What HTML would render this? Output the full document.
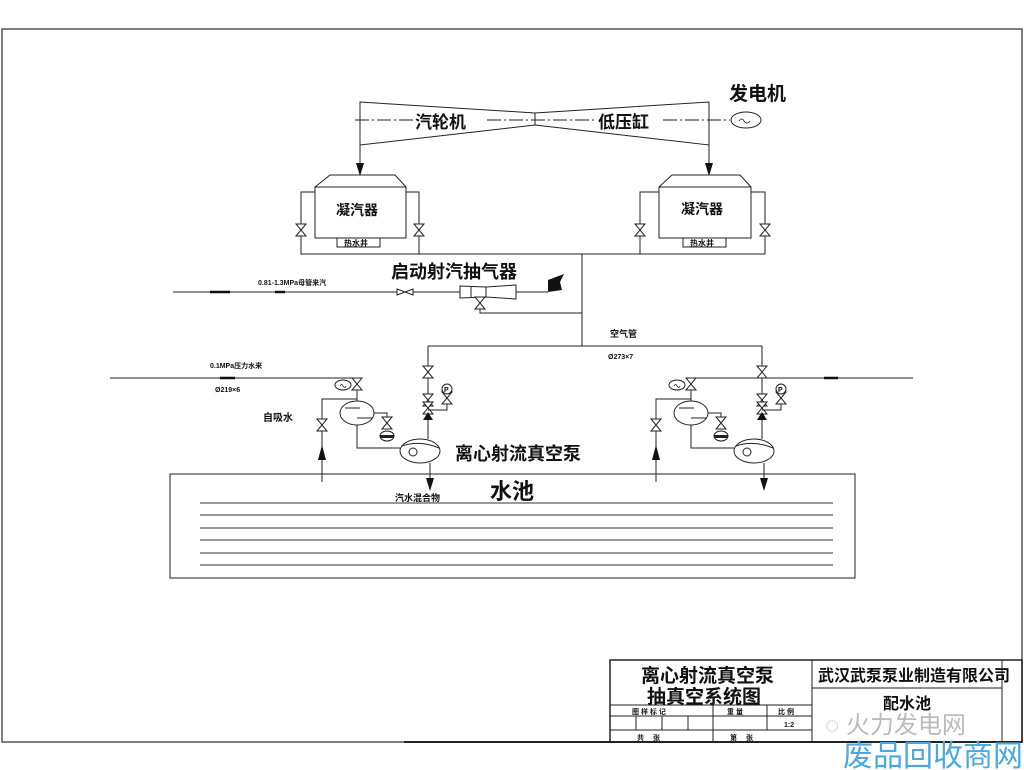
<!DOCTYPE html>
<html><head><meta charset="utf-8"><style>
html,body{margin:0;padding:0;background:#fff;}
svg{display:block}
text{font-family:"Liberation Sans","Noto Sans CJK SC","WenQuanYi Zen Hei",sans-serif;fill:#111}
</style></head><body>
<svg width="1024" height="770" viewBox="0 0 1024 770" xmlns="http://www.w3.org/2000/svg">
<defs>
<g id="vv"><path d="M-5,-6 L5,-6 L-5,6 L5,6 Z" fill="#fff" stroke="#222" stroke-width="1"/></g>
<g id="pumpset">
 <use href="#vv" x="357" y="384"/>
 <ellipse cx="343" cy="385" rx="8" ry="5" fill="#fff" stroke="#222"/>
 <path d="M340,386 q2,-3 3,0 q2,3 3,0" fill="none" stroke="#222" stroke-width="0.8"/>
 <line x1="357" y1="390" x2="357" y2="401" stroke="#222"/>
 <polyline points="357,399 322,399 322,482" fill="none" stroke="#222"/>
 <use href="#vv" x="322" y="425"/>
 <polygon points="322,445 318,460 326,460" fill="#111"/>
 <ellipse cx="357" cy="413" rx="17" ry="12" fill="#fff" stroke="#222"/>
 <line x1="345" y1="408" x2="360" y2="408" stroke="#222"/>
 <line x1="357" y1="418" x2="372" y2="418" stroke="#222"/>
 <polyline points="374,413 387,413 387,417" fill="none" stroke="#222"/>
 <use href="#vv" x="387" y="423"/>
 <ellipse cx="387" cy="436" rx="7" ry="5" fill="#fff" stroke="#222"/>
 <rect x="380" y="435" width="14" height="3" fill="#222"/>
 <polyline points="357,425 357,448 400,448" fill="none" stroke="#222"/>
 <ellipse cx="420" cy="451" rx="20" ry="12" fill="#fff" stroke="#222"/>
 <circle cx="413" cy="452" r="4" fill="none" stroke="#222"/>
 <path d="M402,446 Q420,440 439,448" fill="none" stroke="#222"/>
 <line x1="428" y1="346" x2="428" y2="439" stroke="#222"/>
 <use href="#vv" x="428" y="372"/>
 <use href="#vv" x="428" y="400"/>
 <use href="#vv" x="428" y="408"/>
 <polygon points="428,412 423,420 433,420" fill="#111"/>
 <polyline points="428,410 447,410 447,403" fill="none" stroke="#222"/>
 <use href="#vv" x="447" y="398"/>
 <circle cx="447" cy="389" r="5" fill="#fff" stroke="#222"/>
 <text x="444" y="392" font-size="7" font-weight="bold">P</text>
 <line x1="430" y1="463" x2="430" y2="480" stroke="#222"/>
 <polygon points="430,491 426,478 434,478" fill="#111"/>
</g>
</defs>

<rect x="2" y="29" width="1020" height="713" fill="none" stroke="#555" stroke-width="1.5"/>
<line x1="404" y1="742" x2="1022" y2="742" stroke="#222" stroke-width="2"/>

<g stroke="#222" stroke-width="1" fill="none">
<polygon points="360,102 535,113 709,102 709,145 535,125 360,145" fill="#fff"/>
<line x1="535" y1="113" x2="535" y2="125"/>
<line x1="355" y1="120" x2="730" y2="120" stroke-dasharray="14,3,2,3"/>
<ellipse cx="746" cy="120" rx="15" ry="8" fill="#fff"/>
<path d="M739,121 q3,-4 5,0 q3,4 6,0" stroke-width="0.8"/>
<line x1="360" y1="145" x2="360" y2="165"/>
<line x1="709" y1="145" x2="709" y2="165"/>
</g>
<polygon points="360,176 356,163 364,163" fill="#111"/>
<polygon points="709,176 705,163 713,163" fill="#111"/>
<rect x="413" y="113" width="72" height="16" fill="#fff"/>
<text x="415" y="128" font-size="17" font-weight="bold">汽轮机</text>
<rect x="597" y="113" width="66" height="16" fill="#fff"/>
<text x="598" y="128" font-size="17" font-weight="bold">低压缸</text>
<text x="729" y="100" font-size="19" font-weight="bold">发电机</text>

<g stroke="#222" stroke-width="1" fill="#fff">
<polygon points="315,187 330,175 395,175 406,187 406,238 315,238"/>
<line x1="315" y1="187" x2="406" y2="187"/>
<rect x="337" y="238" width="43" height="9"/>
<polyline points="315,192 301,192 301,254 765,254 765,192 751,192" fill="none"/>
<polyline points="406,192 419,192 419,254" fill="none"/>
<polygon points="659,187 672,175 740,175 751,187 751,238 659,238"/>
<line x1="659" y1="187" x2="751" y2="187"/>
<rect x="683" y="238" width="43" height="9"/>
<polyline points="659,192 640,192 640,254" fill="none"/>
<line x1="582" y1="254" x2="582" y2="346"/>
</g>
<use href="#vv" x="301" y="230"/><use href="#vv" x="419" y="230"/>
<use href="#vv" x="640" y="230"/><use href="#vv" x="765" y="230"/>
<text x="336" y="215" font-size="14" font-weight="bold">凝汽器</text>
<text x="681" y="214" font-size="14" font-weight="bold">凝汽器</text>
<text x="344" y="246" font-size="8" font-weight="bold">热水井</text>
<text x="690" y="246" font-size="8" font-weight="bold">热水井</text>

<text x="391" y="278" font-size="18" font-weight="bold">启动射汽抽气器</text>
<text x="258" y="285" font-size="7" font-weight="bold">0.81-1.3MPa母管来汽</text>
<g stroke="#222" fill="none">
<line x1="173" y1="292" x2="460" y2="292"/>
<line x1="516" y1="292" x2="548" y2="292"/>
<polygon points="460,286 486,287 516,285 516,299 486,297 460,298" fill="#fff"/>
<line x1="471" y1="286" x2="471" y2="298"/><line x1="486" y1="287" x2="486" y2="297"/>
<polyline points="480,298 480,313 582,313"/>
</g>
<line x1="210" y1="292" x2="230" y2="292" stroke="#111" stroke-width="2.5"/>
<line x1="275" y1="292" x2="285" y2="292" stroke="#111" stroke-width="2.5"/>
<path d="M397,289 L397,295 L405,292 Z M413,289 L413,295 L405,292 Z" fill="#fff" stroke="#222"/>
<use href="#vv" x="480" y="303"/>
<polygon points="548,280 564,274 560,282 562,290 548,292" fill="#111"/>

<polyline points="428,346 762,346" stroke="#222" fill="none"/>
<text x="610" y="337" font-size="9" font-weight="bold">空气管</text>
<text x="608" y="359" font-size="7" font-weight="bold">Ø273×7</text>

<line x1="110" y1="378" x2="357" y2="378" stroke="#222"/>
<line x1="220" y1="378" x2="235" y2="378" stroke="#111" stroke-width="2.5"/>
<text x="210" y="368" font-size="7" font-weight="bold">0.1MPa压力水来</text>
<text x="215" y="392" font-size="7" font-weight="bold">Ø219×6</text>
<text x="263" y="421" font-size="10" font-weight="bold">自吸水</text>
<line x1="690" y1="378" x2="913" y2="378" stroke="#222"/>
<line x1="824" y1="378" x2="838" y2="378" stroke="#111" stroke-width="2.5"/>

<use href="#pumpset"/>
<use href="#pumpset" x="334"/>

<text x="455" y="460" font-size="18" font-weight="bold">离心射流真空泵</text>

<rect x="170" y="474" width="685" height="104" fill="none" stroke="#222"/>
<g stroke="#333">
<line x1="200" y1="503" x2="833" y2="503"/><line x1="200" y1="515" x2="833" y2="515"/>
<line x1="200" y1="528" x2="833" y2="528"/><line x1="200" y1="540" x2="833" y2="540"/>
<line x1="200" y1="553" x2="833" y2="553"/><line x1="200" y1="565" x2="833" y2="565"/>
</g>
<text x="490" y="499" font-size="22" font-weight="bold">水池</text>
<text x="395" y="501" font-size="9" font-weight="bold">汽水混合物</text>

<g stroke="#222" fill="none">
<rect x="610" y="660" width="412" height="82" stroke-width="1.5"/>
<line x1="812" y1="660" x2="812" y2="742"/>
<line x1="812" y1="688" x2="1002" y2="688"/>
<line x1="1002" y1="660" x2="1002" y2="742"/>
<line x1="610" y1="705" x2="812" y2="705"/>
<line x1="610" y1="716" x2="812" y2="716"/>
<line x1="610" y1="730" x2="812" y2="730"/>
<line x1="713" y1="705" x2="713" y2="742"/>
<line x1="767" y1="705" x2="767" y2="730"/>
<line x1="636" y1="716" x2="636" y2="730"/>
<line x1="662" y1="716" x2="662" y2="730"/>
<line x1="688" y1="716" x2="688" y2="730"/>
</g>
<text x="641" y="682" font-size="19" font-weight="bold">离心射流真空泵</text>
<text x="647" y="703" font-size="19" font-weight="bold">抽真空系统图</text>
<text x="632" y="714" font-size="7" font-weight="bold">图 样 标 记</text>
<text x="727" y="714" font-size="7" font-weight="bold">重 量</text>
<text x="778" y="714" font-size="7" font-weight="bold">比 例</text>
<text x="784" y="727" font-size="7" font-weight="bold">1:2</text>
<text x="637" y="740" font-size="7" font-weight="bold">共　 张</text>
<text x="730" y="740" font-size="7" font-weight="bold">第　 张</text>
<text x="818" y="681" font-size="16" font-weight="bold">武汉武泵泵业制造有限公司</text>
<text x="883" y="709" font-size="16" font-weight="bold">配水池</text>
<text x="825" y="733" font-size="24" style="fill:#bbb">◌ 火力发电网</text>
<text x="843" y="766" font-size="30" style="fill:#4aa8e0">废品回收商网</text>
</svg>
</body></html>
